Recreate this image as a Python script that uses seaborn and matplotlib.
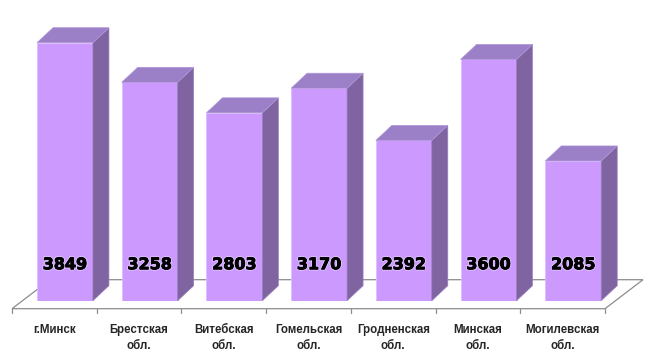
import matplotlib
matplotlib.use("Agg")
import matplotlib.pyplot as plt
import matplotlib.patheffects as pe
from matplotlib.patches import Polygon
from matplotlib.transforms import offset_copy
import seaborn as sns
import pandas as pd

# ── Data ──────────────────────────────────────────────────────────────────────
regions = ["г.Минск", "Брестская\nобл.", "Витебская\nобл.", "Гомельская\nобл.",
           "Гродненская\nобл.", "Минская\nобл.", "Могилевская\nобл."]
values = [3849, 3258, 2803, 3170, 2392, 3600, 2085]

# ── Colours ───────────────────────────────────────────────────────────────────
FRONT = "#CC99FF"
SIDE = "#8064A2"
TOP = "#9B7FC7"
EDGE = "#DDBEFF"
FLOOR_C = "#8C8C8C"
TEXT_C = "#262626"

DEPTH = (16, 15)         # bar depth in pixels (right, up)
FLOOR_FRONT = (-10.6, -8)
FLOOR_BACK = (27.4, 21)

sns.set_style("white")

fig = plt.figure(figsize=(6.5, 3.64), dpi=100)
fig.patch.set_facecolor("white")
ax = fig.add_axes([0.0348, 0.1739, 0.9123, 0.755])

df = pd.DataFrame({"region": regions, "value": values})
sns.barplot(data=df, x="region", y="value", color=FRONT, saturation=1,
            width=0.66, edgecolor=EDGE, linewidth=0.6, ax=ax, zorder=3)

ax.set_xlim(-0.5, len(regions) - 0.5)
ax.set_ylim(0, 4100)
ax.axis("off")

x0, x1 = ax.get_xlim()
y0, y1 = ax.get_ylim()
sx = (x1 - x0) / ax.bbox.width
sy = (y1 - y0) / ax.bbox.height


def off(px, py):
    return px * sx, py * sy


# floor
fx, fy = off(*FLOOR_FRONT)
bx, by = off(*FLOOR_BACK)
floor = Polygon([(x0 + fx, fy), (x1 + fx, fy), (x1 + bx, by), (x0 + bx, by)],
                closed=True, facecolor="white", edgecolor=FLOOR_C,
                linewidth=0.9, clip_on=False, zorder=1)
ax.add_patch(floor)

# ticks on the front edge
tick_len = 4 * sy
for k in range(len(regions) + 1):
    ax.plot([x0 + k + fx] * 2, [fy, fy - tick_len], color=FLOOR_C,
            linewidth=0.9, clip_on=False, zorder=1)

# 3D sides and tops
dx, dy = off(*DEPTH)
for bar in ax.patches:
    if bar is floor:
        continue
    left = bar.get_x()
    right = left + bar.get_width()
    h = bar.get_height()
    side = Polygon([(right, 0), (right + dx, dy), (right + dx, h + dy), (right, h)],
                   closed=True, facecolor=SIDE, edgecolor="#9A80BC",
                   linewidth=0.5, clip_on=False, zorder=3)
    top = Polygon([(left, h), (left + dx, h + dy), (right + dx, h + dy), (right, h)],
                  closed=True, facecolor=TOP, edgecolor="#B196DA",
                  linewidth=0.5, clip_on=False, zorder=3)
    ax.add_patch(side)
    ax.add_patch(top)

# value labels inside bars
val_tr = offset_copy(ax.transData, fig=fig, x=0, y=36, units="dots")
for i, v in enumerate(values):
    ax.text(i, 0, f"{v}", transform=val_tr, ha="center", va="center",
            fontsize=11.5, fontweight="bold", family="DejaVu Sans",
            color="black", zorder=5,
            path_effects=[pe.withStroke(linewidth=2, foreground="#DDBFFF"),
                          pe.withStroke(linewidth=0.6, foreground="black")])

# category labels
lab_tr = offset_copy(ax.transData, fig=fig, x=FLOOR_FRONT[0], y=-15,
                     units="dots")
for i, name in enumerate(regions):
    ax.text(i, fy, name, transform=lab_tr, ha="center", va="top",
            fontsize=8.3, fontweight="bold", family="Liberation Sans",
            color=TEXT_C, linespacing=1.5)

fig.savefig("out.png", dpi=100, facecolor="white")
